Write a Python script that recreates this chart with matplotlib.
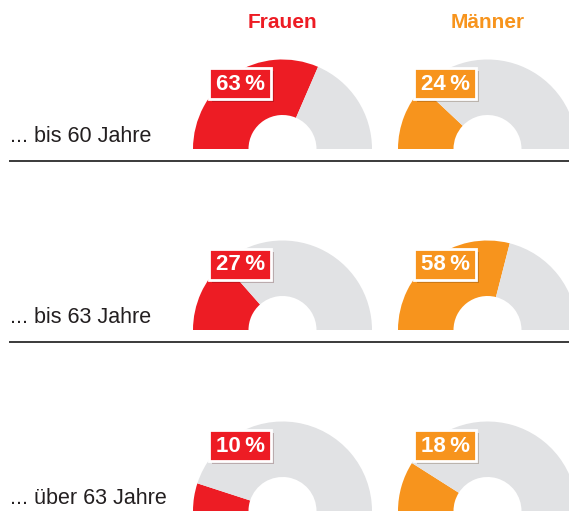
import matplotlib.pyplot as plt
import matplotlib.patheffects as pe
from matplotlib.patches import Wedge, Rectangle

# Daten
gruppen = ['Frauen', 'Männer']
altersstufen = ['... bis 60 Jahre', '... bis 63 Jahre', '... über 63 Jahre']
frauen = [63, 27, 10]
maenner = [24, 58, 18]
farben = ['#ed1c24', '#f7941d']
grau = '#e1e2e4'

plt.rcParams['font.family'] = ['Liberation Sans', 'DejaVu Sans']

fig = plt.figure(figsize=(5.69, 5.2), dpi=100)
ax = fig.add_axes([0, 0, 1, 1])
ax.set_xlim(0, 569)
ax.set_ylim(520, 0)
ax.axis('off')

# Layout in Pixeln
spalten_x = [282.5, 487.5]
zeilen_y = [149, 330, 511]
r_aussen = 89.5
r_innen = 34

for j, name in enumerate(gruppen):
    ax.text(spalten_x[j], 23, name, color=farben[j], fontsize=15, fontweight='bold',
            ha='center', va='center')

for i, label in enumerate(altersstufen):
    y0 = zeilen_y[i]
    ax.text(10, y0 - 7, label, color='#231f20', fontsize=15.5, ha='left', va='baseline')
    if i < len(altersstufen) - 1:
        ax.plot([9, 569], [y0 + 11.5, y0 + 11.5], color='#2b2b2b', lw=1.3, solid_capstyle='butt')
    for j, werte in enumerate([frauen, maenner]):
        v = werte[i]
        cx = spalten_x[j]
        grenze = 180 * v / 100
        # y-Achse ist invertiert -> Winkel gespiegelt
        ax.add_patch(Wedge((cx, y0), r_aussen, 180, 180 + grenze, width=r_aussen - r_innen,
                           facecolor=farben[j], edgecolor='none'))
        ax.add_patch(Wedge((cx, y0), r_aussen, 180 + grenze, 360, width=r_aussen - r_innen,
                           facecolor=grau, edgecolor='none'))
        # Kasten mit Schatten
        bx, by = cx - 42, y0 - 66
        box = Rectangle((bx - 31, by - 15.5), 62, 31, facecolor=farben[j],
                        edgecolor='white', linewidth=2, zorder=3)
        box.set_path_effects([pe.SimplePatchShadow(offset=(2, -2.5), alpha=0.25), pe.Normal()])
        ax.add_patch(box)
        ax.text(bx, by + 1, f'{v}\u2009%', color='white', fontsize=16, fontweight='bold',
                ha='center', va='center', zorder=4)

fig.savefig('out.png', dpi=100)
